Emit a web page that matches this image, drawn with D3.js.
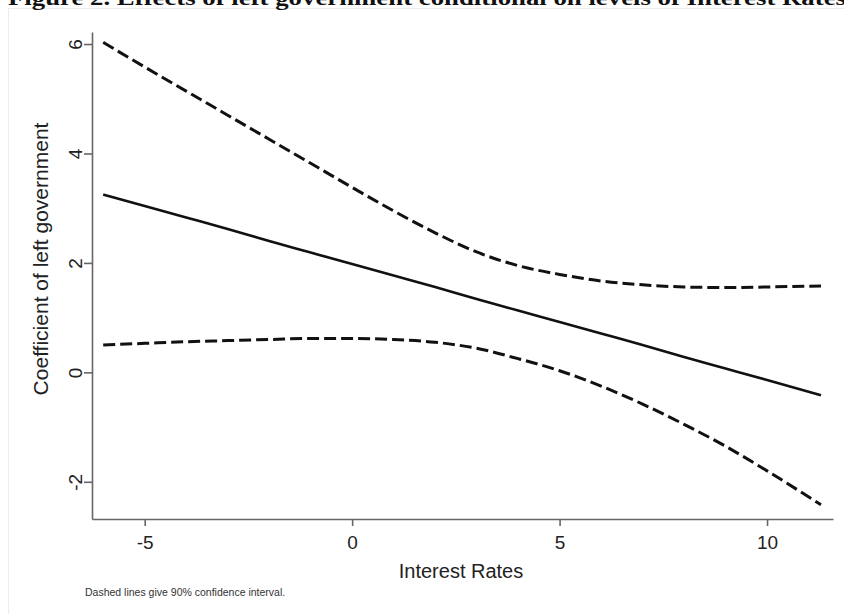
<!DOCTYPE html>
<html>
<head>
<meta charset="utf-8">
<script src="https://cdn.jsdelivr.net/npm/d3@7"></script>
<style>
  body { margin: 0; background: #fff; }
  svg text { font-family: Arial, "Liberation Sans", sans-serif; fill: #222; }
</style>
</head>
<body>
<div id="container"></div>
<script>
// interest rate values where the effect was evaluated
let rates = [-6, -5, -4, -3, -2, -1, 0, 1, 2, 3, 4, 5, 6, 7, 8, 9, 10, 11.3];
// marginal effect of left government
let effect = [3.25, 3.04, 2.83, 2.62, 2.40, 2.19, 1.98, 1.77, 1.56, 1.34, 1.13, 0.92, 0.71, 0.50, 0.28, 0.07, -0.14, -0.42];
// 90% confidence bounds
let upper = [6.03, 5.58, 5.14, 4.70, 4.26, 3.82, 3.38, 2.95, 2.55, 2.20, 1.95, 1.79, 1.67, 1.60, 1.56, 1.55, 1.56, 1.58];
let lower = [0.50, 0.53, 0.56, 0.58, 0.60, 0.62, 0.62, 0.60, 0.55, 0.44, 0.25, 0.03, -0.25, -0.58, -0.95, -1.35, -1.80, -2.42];

let xTicks = [-5, 0, 5, 10];
let yTicks = [-2, 0, 2, 4, 6];

let width = 844, height = 614;

let svg = d3.select("#container")
  .append("svg")
    .attr("width", width)
    .attr("height", height)
;

// faint frame of the pasted figure
svg.append("rect")
    .attr("x", 8.5)
    .attr("y", 8.5)
    .attr("width", 840)
    .attr("height", 610)
    .attr("fill", "none")
    .attr("stroke", "#ececec")
;

// title, cut off at the top as in the source
svg.append("text")
    .attr("x", 8)
    .attr("y", 5)
    .attr("textLength", 838)
    .attr("lengthAdjust", "spacingAndGlyphs")
    .style("font-family", "'Liberation Serif', 'Times New Roman', serif")
    .style("font-weight", "bold")
    .style("font-size", "21px")
    .style("fill", "#111")
    .text("Figure 2. Effects of left government conditional on levels of Interest Rates")
;

let x = d3.scaleLinear().domain([-6.27, 11.59]).range([92, 833]);
let y = d3.scaleLinear().domain([-2.68, 6.22]).range([519, 32]);

function plain(d){ return String(d); }

// x axis
let xAxis = svg.append("g")
    .attr("transform", "translate(0,519)")
    .call(d3.axisBottom(x).tickValues(xTicks).tickFormat(plain).tickSize(7).tickPadding(10).tickSizeOuter(0))
;
xAxis.selectAll("text").style("font-size", "19px").style("fill", "#222");

// y axis, labels turned like Stata does
let yAxis = svg.append("g")
    .attr("transform", "translate(92,0)")
    .call(d3.axisLeft(y).tickValues(yTicks).tickFormat(plain).tickSize(8).tickSizeOuter(0))
;
yAxis.selectAll("text")
    .style("font-size", "19px")
    .style("fill", "#222")
    .attr("text-anchor", "middle")
    .attr("x", 0)
    .attr("y", 0)
    .attr("dy", "0.35em")
    .attr("transform", "translate(-17,0) rotate(-90)")
;

svg.selectAll(".domain, .tick line")
    .attr("stroke", "#666")
    .attr("stroke-width", 1.6)
;

// axis titles
svg.append("text")
    .attr("transform", "translate(48,259) rotate(-90)")
    .attr("text-anchor", "middle")
    .style("font-size", "21px")
    .text("Coefficient of left government")
;

svg.append("text")
    .attr("x", 461)
    .attr("y", 578)
    .attr("text-anchor", "middle")
    .style("font-size", "20px")
    .text("Interest Rates")
;

svg.append("text")
    .attr("x", 85)
    .attr("y", 596)
    .style("font-size", "10.5px")
    .style("fill", "#333")
    .text("Dashed lines give 90% confidence interval.")
;

// lines
function lineFor(values){
  return d3.line()
    .x(function(d, i){ return x(rates[i]); })
    .y(function(d){ return y(d); })
    .curve(d3.curveMonotoneX)(values);
}

svg.append("path")
    .attr("d", lineFor(upper))
    .attr("fill", "none")
    .attr("stroke", "#111")
    .attr("stroke-width", 3)
    .attr("stroke-dasharray", "12,5")
;

svg.append("path")
    .attr("d", lineFor(lower))
    .attr("fill", "none")
    .attr("stroke", "#111")
    .attr("stroke-width", 3)
    .attr("stroke-dasharray", "12,5")
;

svg.append("path")
    .attr("d", lineFor(effect))
    .attr("fill", "none")
    .attr("stroke", "#111")
    .attr("stroke-width", 2.6)
;
</script>
</body>
</html>
